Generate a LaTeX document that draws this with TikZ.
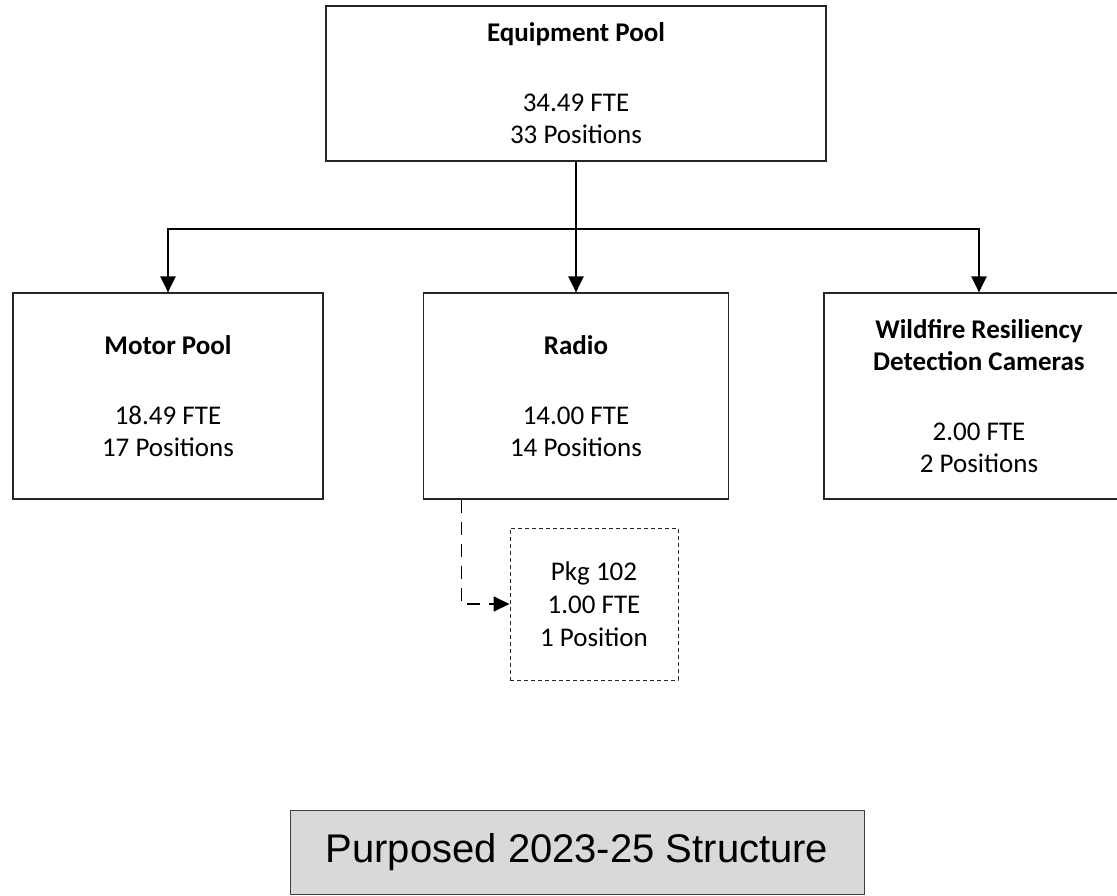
\documentclass[tikz,border=0pt]{standalone}
\usepackage{fontspec}
\setmainfont{Carlito}
\newfontfamily\arialfont{Liberation Sans}
\usepackage{tikz}
\usetikzlibrary{arrows.meta}
\usetikzlibrary{positioning}
\definecolor{bannergray}{HTML}{D9D9D9}

\begin{document}
\begin{tikzpicture}[x=1pt, y=-1pt,
  unit/.style={rectangle, draw=black!85, line width=1.2pt, align=center, inner sep=0pt,
    font=\fontsize{27}{32}\selectfont, minimum width=310pt, minimum height=206pt},
  pkgunit/.style={rectangle, draw=black!85, line width=0.9pt, dash pattern=on 4pt off 3pt,
    align=center, inner sep=0pt, font=\fontsize{27}{33}\selectfont,
    minimum width=168pt, minimum height=152pt},
  feed/.style={line width=2.2pt, -{Triangle[width=15pt,length=16pt]}},
  pkgfeed/.style={line width=1.6pt, dash pattern=on 13pt off 9pt, -{Triangle[width=15pt,length=16pt]}}]
 \useasboundingbox (0,0) rectangle (1117,895);
 \clip (0,0) rectangle (1117,895);
 \node [unit, minimum width=500pt, minimum height=155pt] (pool) at (576,83.5) {\textbf{Equipment Pool}\\[38pt]34.49 FTE\\33 Positions};
 \node [unit] (motor) at (168,396) {\textbf{Motor Pool}\\[38pt]18.49 FTE\\17 Positions};
 \node [unit, minimum width=305pt] (radio) at (576,396) {\textbf{Radio}\\[38pt]14.00 FTE\\14 Positions};
 \node [unit] (wild) at (979,396) {\textbf{Wildfire Resiliency}\\\textbf{Detection Cameras}\\[38pt]2.00 FTE\\2 Positions};
 \node [pkgunit] (pkg) at (594,604) {Pkg 102\\1.00 FTE\\1 Position};
 \node [rectangle, fill=bannergray, draw=black!75, line width=1pt, minimum width=574pt, minimum height=84pt,
   font=\arialfont\fontsize{40}{48}\selectfont] (banner) at (577,852) {Purposed 2023-25 Structure};
 \coordinate (split) at (576,229);
 \draw [line width=2.2pt] (pool.south) -- (split);
 \draw [feed] (split) -| (motor.north);
 \draw [feed] (split) -- (radio.north);
 \draw [feed] (split) -| (wild.north);
 \draw [pkgfeed] ([xshift=38.5pt]radio.south west) |- (pkg.west);
\end{tikzpicture}
\end{document}
